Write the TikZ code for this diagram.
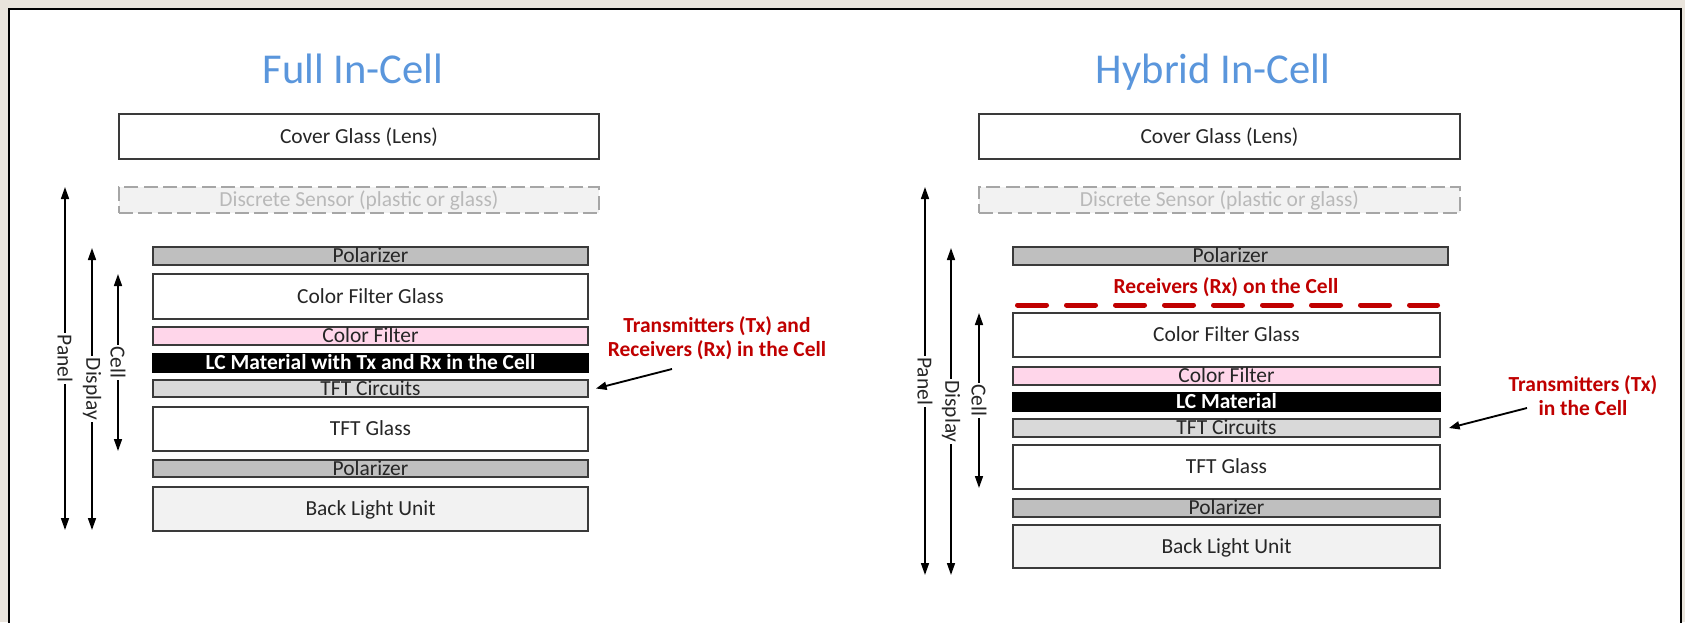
\documentclass[tikz,border=0pt]{standalone}
\usepackage{fontspec}
\setmainfont{Carlito}
\usetikzlibrary{arrows.meta}

\definecolor{titleblue}{HTML}{5A96DC}
\definecolor{notered}{HTML}{C00000}
\definecolor{cfpink}{HTML}{FFD6EA}
\definecolor{polgray}{HTML}{BFBFBF}
\definecolor{tftgray}{HTML}{D9D9D9}
\definecolor{blugray}{HTML}{F2F2F2}
\definecolor{edgegray}{HTML}{3A3A3A}
\definecolor{pageback}{HTML}{E9E4DC}

% layer rectangle given by its corners (x1,y1) (x2,y2), in pixel units
\newcommand{\layerbox}[7]{%
  \node[#1, minimum width={(#5-#3)*0.75pt}, minimum height={(#6-#4)*0.75pt}]
    (#2) at ({(#3+#5)/2},{(#4+#6)/2}) {#7};}

\begin{document}
\begin{tikzpicture}[x=0.75pt, y=-0.75pt,
  bodyfont/.style={font=\fontsize{16.1}{18}\selectfont},
  layer/.style={draw=edgegray, line width=1.4pt, inner sep=0pt, bodyfont,
    text=black!85, text height=10.4pt, text depth=0pt},
  lcbox/.style={layer, fill=black, draw=black, text=white, font=\fontsize{16.1}{18}\selectfont\bfseries},
  sensor/.style={layer, draw=gray!70, line width=1.1pt, fill=blugray,
    dash pattern=on 10.5pt off 4pt, text=gray!55},
  titletext/.style={font=\fontsize{31.9}{38}\selectfont, text=titleblue, inner sep=0pt},
  notetext/.style={font=\fontsize{16.1}{18}\selectfont\bfseries, text=notered, align=center, inner sep=0pt},
  dimarrow/.style={line width=1.2pt, {Triangle[length=9pt,width=6pt]}-{Triangle[length=9pt,width=6pt]}},
  dimlabel/.style={fill=white, rotate=-90, bodyfont, text=black!85, inner sep=1.2pt},
  notearrow/.style={line width=1.4pt, -{Triangle[length=8pt,width=6pt]}},
  rxline/.style={draw=notered, line width=3.75pt, line cap=round, dash pattern=on 21.75pt off 15pt}
]
\useasboundingbox (0,0) rectangle (1685,622);

% page and frame
\fill[pageback] (0,0) rectangle (1685,622);
\fill[white] (9,9) rectangle (1681,640);
\draw[line width=1.9pt, black] (9,640) -- (9,9) -- (1681,9) -- (1681,640);

% titles
\node[titletext, anchor=base] (titleL) at (353,83) {Full In-Cell};
\node[titletext, anchor=base] (titleR) at (1213,83) {Hybrid In-Cell};

% ---- Full In-Cell stack ----
\layerbox{layer}{coverL}{119}{114}{599}{159}{Cover Glass (Lens)}
\layerbox{sensor}{sensorL}{119}{187}{599}{213}{Discrete Sensor (plastic or glass)}
\layerbox{layer,fill=polgray}{polTopL}{153}{247}{588}{265}{Polarizer}
\layerbox{layer}{cfgL}{153}{274}{588}{319}{Color Filter Glass}
\layerbox{layer,fill=cfpink}{cfL}{153}{327}{588}{345}{Color Filter}
\layerbox{lcbox}{lcL}{153}{354}{588}{372}{LC Material with Tx and Rx in the Cell}
\layerbox{layer,fill=tftgray}{tftL}{153}{380}{588}{397}{TFT Circuits}
\layerbox{layer}{tftgL}{153}{407}{588}{451}{TFT Glass}
\layerbox{layer,fill=polgray}{polBotL}{153}{460}{588}{477}{Polarizer}
\layerbox{layer,fill=blugray}{bluL}{153}{487}{588}{531}{Back Light Unit}

% extent arrows, left
\coordinate (panLt) at (65,187);  \coordinate (panLb) at (65,530);
\coordinate (disLt) at (92,248);  \coordinate (disLb) at (92,530);
\coordinate (celLt) at (118,274); \coordinate (celLb) at (118,451);
\draw[dimarrow] (panLt) -- node[dimlabel] {Panel} (panLb);
\draw[dimarrow] (disLt) -- node[dimlabel] {Display} (disLb);
\draw[dimarrow] (celLt) -- node[dimlabel] {Cell} (celLb);

% note, left
\node[notetext] (noteL) at (717,338) {Transmitters (Tx) and\\Receivers (Rx) in the Cell};
\coordinate (noteLtail) at (672,369);
\draw[notearrow] (noteLtail) -- ([xshift=5.25pt]tftL.east);

% ---- Hybrid In-Cell stack ----
\layerbox{layer}{coverR}{979}{114}{1460}{159}{Cover Glass (Lens)}
\layerbox{sensor}{sensorR}{979}{187}{1460}{213}{Discrete Sensor (plastic or glass)}
\layerbox{layer,fill=polgray}{polTopR}{1013}{247}{1448}{265}{Polarizer}
\layerbox{layer}{cfgR}{1013}{313}{1440}{357}{Color Filter Glass}
\layerbox{layer,fill=cfpink}{cfR}{1013}{367}{1440}{385}{Color Filter}
\layerbox{lcbox}{lcR}{1013}{393}{1440}{411}{LC Material}
\layerbox{layer,fill=tftgray}{tftR}{1013}{419}{1440}{437}{TFT Circuits}
\layerbox{layer}{tftgR}{1013}{445}{1440}{489}{TFT Glass}
\layerbox{layer,fill=polgray}{polBotR}{1013}{499}{1440}{517}{Polarizer}
\layerbox{layer,fill=blugray}{bluR}{1013}{525}{1440}{568}{Back Light Unit}

% receiver line on the cell
\node[notetext, anchor=base] (rxText) at (1226,293) {Receivers (Rx) on the Cell};
\coordinate (rxA) at (1017.5,305); \coordinate (rxB) at (1437.5,305);
\draw[rxline] (rxA) -- (rxB);

% extent arrows, right
\coordinate (panRt) at (925,187); \coordinate (panRb) at (925,575);
\coordinate (disRt) at (951,248); \coordinate (disRb) at (951,575);
\coordinate (celRt) at (979,313); \coordinate (celRb) at (979,488);
\draw[dimarrow] (panRt) -- node[dimlabel] {Panel} (panRb);
\draw[dimarrow] (disRt) -- node[dimlabel] {Display} (disRb);
\draw[dimarrow] (celRt) -- node[dimlabel] {Cell} (celRb);

% note, right
\node[notetext] (noteR) at (1583,396) {Transmitters (Tx)\\in the Cell};
\coordinate (noteRtail) at (1527,408);
\draw[notearrow] (noteRtail) -- ([xshift=6pt]tftR.east);
\end{tikzpicture}
\end{document}
